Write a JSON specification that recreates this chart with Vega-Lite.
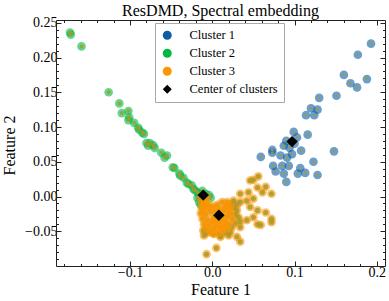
{
  "$schema": "https://vega.github.io/schema/vega-lite/v6.json",
  "width": 329,
  "height": 246,
  "autosize": {"type": "none"},
  "padding": {"left": 56, "top": 20, "right": 4, "bottom": 35},
  "title": {"text": "ResDMD, Spectral embedding", "fontSize": 16, "fontWeight": "normal", "font": "Liberation Serif", "color": "black", "baseline": "alphabetic", "offset": -1, "dy": 15},
  "config": {
    "font": "Liberation Serif",
    "view": {"stroke": null},
    "axis": {"domainColor": "#222", "tickColor": "#222", "domainWidth": 1, "tickWidth": 1, "grid": false, "labelFont": "Liberation Serif", "labelFontSize": 14, "labelColor": "black", "titleFont": "Liberation Serif", "titleFontSize": 16, "titleFontWeight": "normal", "titleColor": "black"},
    "legend": {"orient": "none", "legendX": 99, "legendY": 3, "strokeColor": "#a8a8a8", "fillColor": "white", "padding": 6, "symbolSize": 80, "symbolOpacity": 1, "symbolStrokeWidth": 0, "labelFont": "Liberation Serif", "labelFontSize": 12.5, "labelColor": "black", "labelOffset": 16, "rowPadding": 5}
  },
  "datasets": {
    "points": [
      {"x": 0.193, "y": 0.220, "cluster": "Cluster 1"},
      {"x": 0.177, "y": 0.204, "cluster": "Cluster 1"},
      {"x": 0.188, "y": 0.169, "cluster": "Cluster 1"},
      {"x": 0.176, "y": 0.157, "cluster": "Cluster 1"},
      {"x": 0.168, "y": 0.163, "cluster": "Cluster 1"},
      {"x": 0.160, "y": 0.175, "cluster": "Cluster 1"},
      {"x": 0.151, "y": 0.145, "cluster": "Cluster 1"},
      {"x": 0.130, "y": 0.142, "cluster": "Cluster 1"},
      {"x": 0.120, "y": 0.127, "cluster": "Cluster 1"},
      {"x": 0.128, "y": 0.125, "cluster": "Cluster 1"},
      {"x": 0.114, "y": 0.117, "cluster": "Cluster 1"},
      {"x": 0.124, "y": 0.117, "cluster": "Cluster 1"},
      {"x": 0.099, "y": 0.093, "cluster": "Cluster 1"},
      {"x": 0.116, "y": 0.089, "cluster": "Cluster 1"},
      {"x": 0.103, "y": 0.085, "cluster": "Cluster 1"},
      {"x": 0.090, "y": 0.080, "cluster": "Cluster 1"},
      {"x": 0.087, "y": 0.073, "cluster": "Cluster 1"},
      {"x": 0.073, "y": 0.067, "cluster": "Cluster 1"},
      {"x": 0.148, "y": 0.065, "cluster": "Cluster 1"},
      {"x": 0.108, "y": 0.066, "cluster": "Cluster 1"},
      {"x": 0.059, "y": 0.057, "cluster": "Cluster 1"},
      {"x": 0.073, "y": 0.063, "cluster": "Cluster 1"},
      {"x": 0.083, "y": 0.059, "cluster": "Cluster 1"},
      {"x": 0.091, "y": 0.056, "cluster": "Cluster 1"},
      {"x": 0.097, "y": 0.061, "cluster": "Cluster 1"},
      {"x": 0.123, "y": 0.050, "cluster": "Cluster 1"},
      {"x": 0.074, "y": 0.044, "cluster": "Cluster 1"},
      {"x": 0.085, "y": 0.044, "cluster": "Cluster 1"},
      {"x": 0.093, "y": 0.044, "cluster": "Cluster 1"},
      {"x": 0.107, "y": 0.041, "cluster": "Cluster 1"},
      {"x": 0.104, "y": 0.033, "cluster": "Cluster 1"},
      {"x": 0.113, "y": 0.034, "cluster": "Cluster 1"},
      {"x": 0.128, "y": 0.031, "cluster": "Cluster 1"},
      {"x": 0.077, "y": 0.036, "cluster": "Cluster 1"},
      {"x": 0.087, "y": 0.033, "cluster": "Cluster 1"},
      {"x": 0.090, "y": 0.021, "cluster": "Cluster 1"},
      {"x": 0.094, "y": 0.070, "cluster": "Cluster 1"},
      {"x": 0.100, "y": 0.076, "cluster": "Cluster 1"},
      {"x": -0.173, "y": 0.236, "cluster": "Cluster 2"},
      {"x": -0.172, "y": 0.233, "cluster": "Cluster 2"},
      {"x": -0.159, "y": 0.216, "cluster": "Cluster 2"},
      {"x": -0.126, "y": 0.150, "cluster": "Cluster 2"},
      {"x": -0.113, "y": 0.134, "cluster": "Cluster 2"},
      {"x": -0.110, "y": 0.120, "cluster": "Cluster 2"},
      {"x": -0.102, "y": 0.123, "cluster": "Cluster 2"},
      {"x": -0.101, "y": 0.114, "cluster": "Cluster 2"},
      {"x": -0.102, "y": 0.110, "cluster": "Cluster 2"},
      {"x": -0.095, "y": 0.106, "cluster": "Cluster 2"},
      {"x": -0.090, "y": 0.099, "cluster": "Cluster 2"},
      {"x": -0.089, "y": 0.096, "cluster": "Cluster 2"},
      {"x": -0.085, "y": 0.092, "cluster": "Cluster 2"},
      {"x": -0.083, "y": 0.090, "cluster": "Cluster 2"},
      {"x": -0.080, "y": 0.077, "cluster": "Cluster 2"},
      {"x": -0.076, "y": 0.077, "cluster": "Cluster 2"},
      {"x": -0.072, "y": 0.074, "cluster": "Cluster 2"},
      {"x": -0.078, "y": 0.073, "cluster": "Cluster 2"},
      {"x": -0.070, "y": 0.070, "cluster": "Cluster 2"},
      {"x": -0.062, "y": 0.063, "cluster": "Cluster 2"},
      {"x": -0.058, "y": 0.056, "cluster": "Cluster 2"},
      {"x": -0.055, "y": 0.059, "cluster": "Cluster 2"},
      {"x": -0.048, "y": 0.042, "cluster": "Cluster 2"},
      {"x": -0.046, "y": 0.041, "cluster": "Cluster 2"},
      {"x": -0.040, "y": 0.033, "cluster": "Cluster 2"},
      {"x": -0.039, "y": 0.030, "cluster": "Cluster 2"},
      {"x": -0.035, "y": 0.027, "cluster": "Cluster 2"},
      {"x": -0.031, "y": 0.020, "cluster": "Cluster 2"},
      {"x": -0.029, "y": 0.018, "cluster": "Cluster 2"},
      {"x": -0.025, "y": 0.016, "cluster": "Cluster 2"},
      {"x": -0.023, "y": 0.011, "cluster": "Cluster 2"},
      {"x": -0.021, "y": 0.009, "cluster": "Cluster 2"},
      {"x": -0.018, "y": 0.006, "cluster": "Cluster 2"},
      {"x": -0.015, "y": 0.001, "cluster": "Cluster 2"},
      {"x": -0.016, "y": 0.004, "cluster": "Cluster 2"},
      {"x": -0.018, "y": -0.002, "cluster": "Cluster 2"},
      {"x": -0.016, "y": -0.008, "cluster": "Cluster 2"},
      {"x": -0.014, "y": -0.012, "cluster": "Cluster 2"},
      {"x": -0.008, "y": 0.004, "cluster": "Cluster 2"},
      {"x": -0.004, "y": 0.002, "cluster": "Cluster 2"},
      {"x": -0.002, "y": -0.002, "cluster": "Cluster 2"},
      {"x": -0.012, "y": 0.008, "cluster": "Cluster 2"},
      {"x": -0.013, "y": -0.002, "cluster": "Cluster 3"},
      {"x": -0.012, "y": -0.008, "cluster": "Cluster 3"},
      {"x": -0.010, "y": -0.012, "cluster": "Cluster 3"},
      {"x": -0.013, "y": -0.016, "cluster": "Cluster 3"},
      {"x": -0.008, "y": -0.004, "cluster": "Cluster 3"},
      {"x": -0.006, "y": -0.010, "cluster": "Cluster 3"},
      {"x": -0.004, "y": -0.016, "cluster": "Cluster 3"},
      {"x": -0.010, "y": -0.020, "cluster": "Cluster 3"},
      {"x": -0.014, "y": -0.024, "cluster": "Cluster 3"},
      {"x": -0.008, "y": -0.026, "cluster": "Cluster 3"},
      {"x": -0.012, "y": -0.032, "cluster": "Cluster 3"},
      {"x": -0.006, "y": -0.034, "cluster": "Cluster 3"},
      {"x": -0.010, "y": -0.040, "cluster": "Cluster 3"},
      {"x": -0.004, "y": -0.042, "cluster": "Cluster 3"},
      {"x": -0.008, "y": -0.046, "cluster": "Cluster 3"},
      {"x": -0.002, "y": -0.050, "cluster": "Cluster 3"},
      {"x": 0.002, "y": -0.046, "cluster": "Cluster 3"},
      {"x": 0.004, "y": -0.040, "cluster": "Cluster 3"},
      {"x": 0.000, "y": -0.036, "cluster": "Cluster 3"},
      {"x": 0.002, "y": -0.030, "cluster": "Cluster 3"},
      {"x": -0.002, "y": -0.022, "cluster": "Cluster 3"},
      {"x": 0.000, "y": -0.014, "cluster": "Cluster 3"},
      {"x": 0.004, "y": -0.020, "cluster": "Cluster 3"},
      {"x": 0.006, "y": -0.012, "cluster": "Cluster 3"},
      {"x": 0.008, "y": -0.018, "cluster": "Cluster 3"},
      {"x": 0.010, "y": -0.024, "cluster": "Cluster 3"},
      {"x": 0.012, "y": -0.030, "cluster": "Cluster 3"},
      {"x": 0.006, "y": -0.034, "cluster": "Cluster 3"},
      {"x": 0.010, "y": -0.038, "cluster": "Cluster 3"},
      {"x": 0.008, "y": -0.044, "cluster": "Cluster 3"},
      {"x": 0.012, "y": -0.048, "cluster": "Cluster 3"},
      {"x": 0.014, "y": -0.042, "cluster": "Cluster 3"},
      {"x": 0.016, "y": -0.036, "cluster": "Cluster 3"},
      {"x": 0.018, "y": -0.028, "cluster": "Cluster 3"},
      {"x": 0.014, "y": -0.020, "cluster": "Cluster 3"},
      {"x": 0.016, "y": -0.014, "cluster": "Cluster 3"},
      {"x": 0.020, "y": -0.018, "cluster": "Cluster 3"},
      {"x": 0.022, "y": -0.024, "cluster": "Cluster 3"},
      {"x": 0.024, "y": -0.032, "cluster": "Cluster 3"},
      {"x": 0.020, "y": -0.040, "cluster": "Cluster 3"},
      {"x": 0.018, "y": -0.046, "cluster": "Cluster 3"},
      {"x": 0.024, "y": -0.044, "cluster": "Cluster 3"},
      {"x": 0.028, "y": -0.038, "cluster": "Cluster 3"},
      {"x": 0.028, "y": -0.026, "cluster": "Cluster 3"},
      {"x": 0.026, "y": -0.016, "cluster": "Cluster 3"},
      {"x": 0.030, "y": -0.020, "cluster": "Cluster 3"},
      {"x": 0.032, "y": -0.030, "cluster": "Cluster 3"},
      {"x": 0.034, "y": -0.036, "cluster": "Cluster 3"},
      {"x": 0.012, "y": -0.008, "cluster": "Cluster 3"},
      {"x": 0.018, "y": -0.008, "cluster": "Cluster 3"},
      {"x": 0.024, "y": -0.010, "cluster": "Cluster 3"},
      {"x": 0.030, "y": -0.012, "cluster": "Cluster 3"},
      {"x": 0.002, "y": -0.054, "cluster": "Cluster 3"},
      {"x": 0.008, "y": -0.052, "cluster": "Cluster 3"},
      {"x": 0.016, "y": -0.052, "cluster": "Cluster 3"},
      {"x": -0.006, "y": -0.052, "cluster": "Cluster 3"},
      {"x": 0.010, "y": -0.058, "cluster": "Cluster 3"},
      {"x": 0.020, "y": -0.056, "cluster": "Cluster 3"},
      {"x": -0.010, "y": -0.056, "cluster": "Cluster 3"},
      {"x": 0.034, "y": 0.004, "cluster": "Cluster 3"},
      {"x": 0.044, "y": 0.006, "cluster": "Cluster 3"},
      {"x": 0.055, "y": 0.013, "cluster": "Cluster 3"},
      {"x": 0.065, "y": 0.014, "cluster": "Cluster 3"},
      {"x": 0.061, "y": 0.006, "cluster": "Cluster 3"},
      {"x": 0.072, "y": 0.004, "cluster": "Cluster 3"},
      {"x": 0.046, "y": 0.023, "cluster": "Cluster 3"},
      {"x": 0.050, "y": 0.024, "cluster": "Cluster 3"},
      {"x": 0.056, "y": 0.029, "cluster": "Cluster 3"},
      {"x": 0.042, "y": -0.006, "cluster": "Cluster 3"},
      {"x": 0.050, "y": -0.003, "cluster": "Cluster 3"},
      {"x": 0.026, "y": -0.006, "cluster": "Cluster 3"},
      {"x": 0.034, "y": -0.008, "cluster": "Cluster 3"},
      {"x": 0.022, "y": -0.014, "cluster": "Cluster 3"},
      {"x": 0.046, "y": -0.015, "cluster": "Cluster 3"},
      {"x": 0.055, "y": -0.020, "cluster": "Cluster 3"},
      {"x": 0.065, "y": -0.023, "cluster": "Cluster 3"},
      {"x": 0.050, "y": -0.030, "cluster": "Cluster 3"},
      {"x": 0.072, "y": -0.032, "cluster": "Cluster 3"},
      {"x": 0.072, "y": -0.037, "cluster": "Cluster 3"},
      {"x": 0.055, "y": -0.040, "cluster": "Cluster 3"},
      {"x": 0.059, "y": -0.041, "cluster": "Cluster 3"},
      {"x": 0.042, "y": -0.034, "cluster": "Cluster 3"},
      {"x": 0.034, "y": -0.044, "cluster": "Cluster 3"},
      {"x": 0.030, "y": -0.058, "cluster": "Cluster 3"},
      {"x": 0.034, "y": -0.065, "cluster": "Cluster 3"},
      {"x": 0.022, "y": -0.051, "cluster": "Cluster 3"},
      {"x": 0.005, "y": -0.074, "cluster": "Cluster 3"},
      {"x": -0.007, "y": -0.083, "cluster": "Cluster 3"},
      {"x": 0.001, "y": -0.053, "cluster": "Cluster 3"},
      {"x": 0.010, "y": -0.056, "cluster": "Cluster 3"},
      {"x": -0.011, "y": -0.049, "cluster": "Cluster 3"}
    ],
    "centers": [
      {"x": 0.097, "y": 0.079, "cluster": "Center of clusters"},
      {"x": -0.011, "y": 0.002, "cluster": "Center of clusters"},
      {"x": 0.008, "y": -0.027, "cluster": "Center of clusters"}
    ]
  },
  "resolve": {"axis": {"x": "independent", "y": "independent"}},
  "layer": [
    {
      "data": {"name": "points"},
      "transform": [{"filter": "!(datum.cluster == 'Cluster 3' && pow((datum.x - 0.004) / 0.021, 2) + pow((datum.y + 0.026) / 0.028, 2) < 1)"}],
      "mark": {"type": "point", "filled": true, "opacity": 0.6, "size": 75},
      "encoding": {
        "x": {"field": "x", "type": "quantitative", "title": "Feature 1",
          "scale": {"domain": [-0.19, 0.21], "nice": false, "zero": false},
          "axis": {"orient": "bottom",
            "values": [-0.18,-0.16,-0.14,-0.12,-0.1,-0.08,-0.06,-0.04,-0.02,0,0.02,0.04,0.06,0.08,0.1,0.12,0.14,0.16,0.18,0.2],
            "labelExpr": "abs(datum.value*10 - round(datum.value*10)) < 0.001 ? format(datum.value, '.1f') : ''",
            "tickSize": {"condition": {"test": "abs(datum.value*10 - round(datum.value*10)) < 0.001", "value": -5}, "value": -2.5},
            "labelPadding": 4, "labelBaseline": "top", "labelFlush": false, "labelOverlap": false,
            "titleBaseline": "alphabetic", "titleY": 28}},
        "y": {"field": "y", "type": "quantitative", "title": "Feature 2",
          "scale": {"domain": [-0.1, 0.254], "nice": false, "zero": false},
          "axis": {"orient": "left",
            "values": [-0.09,-0.08,-0.07,-0.06,-0.05,-0.04,-0.03,-0.02,-0.01,0,0.01,0.02,0.03,0.04,0.05,0.06,0.07,0.08,0.09,0.1,0.11,0.12,0.13,0.14,0.15,0.16,0.17,0.18,0.19,0.2,0.21,0.22,0.23,0.24,0.25],
            "labelExpr": "abs(datum.value*20 - round(datum.value*20)) < 0.001 ? format(datum.value, '.2f') : ''",
            "tickSize": {"condition": {"test": "abs(datum.value*20 - round(datum.value*20)) < 0.001", "value": -5}, "value": -2.5},
            "labelPadding": 4, "labelFlush": false, "labelOverlap": false,
            "titleBaseline": "alphabetic", "titleX": -42, "titleY": 125, "titleAngle": -90}},
        "color": {"field": "cluster", "type": "nominal",
          "scale": {"domain": ["Cluster 1", "Cluster 2", "Cluster 3", "Center of clusters"], "range": ["#0C5DA5", "#00B945", "#FF9500", "#000000"]},
          "legend": {"title": null}},
        "shape": {"field": "cluster", "type": "nominal",
          "scale": {"domain": ["Cluster 1", "Cluster 2", "Cluster 3", "Center of clusters"], "range": ["circle", "circle", "circle", "diamond"]},
          "legend": {"title": null}}
      }
    },
    {
      "data": {"name": "points"},
      "mark": {"type": "circle", "opacity": 0.85, "color": "#a59a2e"},
      "encoding": {
        "x": {"field": "x", "type": "quantitative",
          "axis": {"orient": "top", "title": null, "labels": false,
            "values": [-0.18,-0.16,-0.14,-0.12,-0.1,-0.08,-0.06,-0.04,-0.02,0,0.02,0.04,0.06,0.08,0.1,0.12,0.14,0.16,0.18,0.2],
            "tickSize": {"condition": {"test": "abs(datum.value*10 - round(datum.value*10)) < 0.001", "value": -5}, "value": -2.5}}},
        "y": {"field": "y", "type": "quantitative",
          "axis": {"orient": "right", "title": null, "labels": false,
            "values": [-0.09,-0.08,-0.07,-0.06,-0.05,-0.04,-0.03,-0.02,-0.01,0,0.01,0.02,0.03,0.04,0.05,0.06,0.07,0.08,0.09,0.1,0.11,0.12,0.13,0.14,0.15,0.16,0.17,0.18,0.19,0.2,0.21,0.22,0.23,0.24,0.25],
            "tickSize": {"condition": {"test": "abs(datum.value*20 - round(datum.value*20)) < 0.001", "value": -5}, "value": -2.5}}},
        "size": {"field": "cluster", "type": "nominal",
          "scale": {"domain": ["Cluster 1", "Cluster 2", "Cluster 3"], "range": [7, 26, 7]},
          "legend": null}
      }
    },
    {
      "data": {"name": "points"},
      "transform": [{"filter": "datum.cluster == 'Cluster 3' && pow((datum.x - 0.004) / 0.021, 2) + pow((datum.y + 0.026) / 0.028, 2) < 1"}],
      "mark": {"type": "point", "filled": true, "opacity": 0.6, "size": 75},
      "encoding": {
        "x": {"field": "x", "type": "quantitative", "axis": null},
        "y": {"field": "y", "type": "quantitative", "axis": null},
        "color": {"field": "cluster", "type": "nominal"},
        "shape": {"field": "cluster", "type": "nominal"}
      }
    },
    {
      "data": {"name": "centers"},
      "mark": {"type": "point", "filled": true, "opacity": 1, "size": 130},
      "encoding": {
        "x": {"field": "x", "type": "quantitative", "axis": null},
        "y": {"field": "y", "type": "quantitative", "axis": null},
        "color": {"field": "cluster", "type": "nominal"},
        "shape": {"field": "cluster", "type": "nominal"}
      }
    }
  ]
}
